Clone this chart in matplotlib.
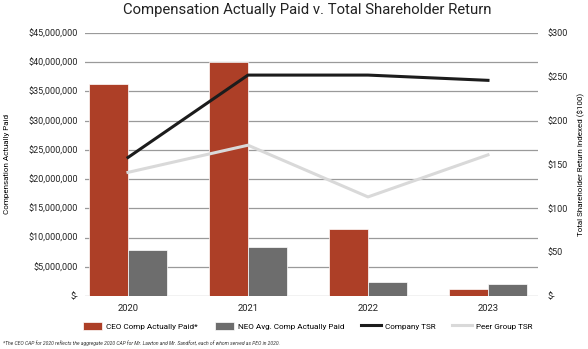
import matplotlib.pyplot as plt
import numpy as np

plt.rcParams['font.family'] = ['Roboto', 'DejaVu Sans']

years = ["2020", "2021", "2022", "2023"]
ceo_cap = [36.3e6, 40.0e6, 11.4e6, 1.2e6]
neo_cap = [7.8e6, 8.3e6, 2.35e6, 2.0e6]
company_tsr = [158, 252, 252, 246]
peer_tsr = [141, 172, 113, 161]

left_ticks = np.arange(0, 45e6 + 1, 5e6)
right_ticks = np.arange(0, 301, 50)

red = "#ad3f27"
gray = "#6d6d6d"
black = "#1c1c1c"
light = "#d9d9d9"
grid_c = "#9a9a9a"

def money(v):
    return "$-" if v == 0 else "${:,.0f}".format(v)

fig = plt.figure(figsize=(5.88, 3.49), dpi=100)
ax = fig.add_axes([0.1446, 0.152, 0.7704, 0.7534])
x = np.arange(len(years))
w = 0.325

ax.bar(x - w / 2, ceo_cap, w, color=red, edgecolor="white", linewidth=0.5,
       label="CEO Comp Actually Paid*", zorder=3)
ax.bar(x + w / 2, neo_cap, w, color=gray, edgecolor="white", linewidth=0.5,
       label="NEO Avg. Comp Actually Paid", zorder=3)
ax.set_ylim(0, 45e6)
ax.set_xlim(-0.358, 3.417)
ax.set_yticks(left_ticks)
ax.set_yticklabels([money(v) for v in left_ticks])
ax.set_xticks(x)
ax.set_xticklabels(years)
ax.grid(axis="y", color=grid_c, linewidth=0.9, zorder=0)
ax.tick_params(axis="both", length=0, colors="#222222")
ax.tick_params(axis="y", pad=5, labelsize=6.5)
ax.tick_params(axis="x", pad=6, labelsize=6.8)
for s in ax.spines.values():
    s.set_visible(False)
ax.set_ylabel("Compensation Actually Paid", fontsize=5.8)
ax.yaxis.set_label_coords(-0.165, 0.5)

ax2 = ax.twinx()
ax2.plot(x, company_tsr, color=black, linewidth=2.2, label="Company TSR", zorder=4)
ax2.plot(x, peer_tsr, color=light, linewidth=2.2, label="Peer Group TSR", zorder=4)
ax2.set_ylim(0, 300)
ax2.set_yticks(right_ticks)
ax2.set_yticklabels([money(v) for v in right_ticks])
ax2.tick_params(axis="y", length=0, labelsize=6.5, pad=7, colors="#222222")
for s in ax2.spines.values():
    s.set_visible(False)
ax2.set_ylabel("Total Shareholder Return Indexed ($100)", fontsize=5.8, rotation=90,
               va="center")
ax2.yaxis.set_label_coords(1.096, 0.5)

fig.suptitle("Compensation Actually Paid v. Total Shareholder Return",
             fontsize=10.7, x=0.522, y=0.99, va="top", color="#222222")

h1, l1 = ax.get_legend_handles_labels()
h2, l2 = ax2.get_legend_handles_labels()
fig.legend(h1 + h2, l1 + l2, loc="center", bbox_to_anchor=(0.523, 0.066), ncol=4,
           frameon=False, fontsize=5.9, handlelength=2.4, handleheight=1.1,
           columnspacing=2.0, handletextpad=0.5)

fig.text(0.005, 0.017,
         "*The CEO CAP for 2020 reflects the aggregate 2020 CAP for Mr. Lawton and Mr. Sandfort, "
         "each of whom served as PEO in 2020.",
         fontsize=3.6, style="italic", color="#333333", va="center")

fig.savefig("out.png", dpi=100)
